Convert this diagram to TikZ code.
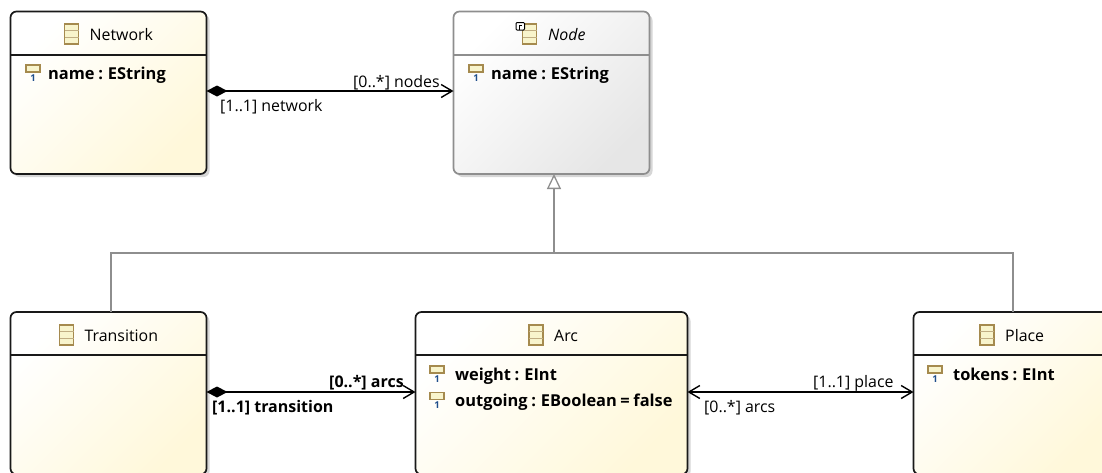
\documentclass[tikz,border=0pt]{standalone}
\usepackage{fontspec}
\setmainfont{Open Sans}
\usetikzlibrary{arrows.meta,shadows}
\definecolor{iconedge}{HTML}{A58A4E}
\definecolor{iconfill}{HTML}{F8F4CC}
\definecolor{inhgray}{HTML}{8E8E8E}
\definecolor{multblue}{HTML}{1F4E8C}
\definecolor{classend}{HTML}{FFF8DA}
\definecolor{absend}{HTML}{E6E6E6}
\newcommand{\dgmfont}{\fontsize{15.9}{18}\selectfont}
\newcommand{\attrfont}{\fontsize{16.4}{18}\selectfont\bfseries\spaceskip=3.6pt\relax}
\tikzset{
  x=1pt,y=-1pt,
  classbox/.style={anchor=north west,inner sep=0pt,outer sep=0pt,rounded corners=6pt,
    minimum height=162.5pt,line width=1.7pt,draw=black!90,
    left color=white,right color=classend,shading angle=45,
    drop shadow={shadow xshift=3pt,shadow yshift=-3pt,fill=black,opacity=.16}},
  absbox/.style={classbox,draw=inhgray,left color=white,right color=absend,shading angle=45},
  divider/.style={line width=1.6pt,draw=black!90},
  titletext/.style={anchor=base west,inner sep=0pt,font=\dgmfont},
  attrtext/.style={anchor=base west,inner sep=0pt,font=\attrfont},
  roletext/.style={anchor=base west,inner sep=0pt,font=\dgmfont},
  boldrole/.style={roletext,font=\fontsize{16}{18}\selectfont\bfseries},
  assoc/.style={line width=1.5pt,draw=black},
  comp/.style={assoc,{Diamond[length=21pt,width=11pt,fill=black]}-{Straight Barb[length=11pt,width=13pt,line width=1.4pt]}},
  both/.style={assoc,{Straight Barb[length=11pt,width=13pt,line width=1.4pt]}-{Straight Barb[length=11pt,width=13pt,line width=1.4pt]}},
  inh/.style={line width=1.5pt,draw=inhgray},
  classicon/.pic={
    \draw[iconedge,line width=1.4pt,fill=iconfill] (-7,-10) rectangle (7,10);
    \draw[iconedge!70,line width=1pt] (-7,-3.3) -- (7,-3.3) (-7,3.3) -- (7,3.3);
  },
  attricon/.pic={
    \draw[iconedge,line width=1.4pt,fill=iconfill] (-7,-4) rectangle (7,3);
    \node[inner sep=0pt,text=multblue,font=\fontsize{9.5}{9.5}\selectfont\bfseries] at (0,9) {1};
  },
}
\begin{document}
\begin{tikzpicture}
\path[use as bounding box,fill=white] (0,0) rectangle (1102,472);
\clip (0,0) rectangle (1102,472);
% boxes
\node[classbox,minimum width=196pt] (net) at (10.5,11.5) {};
\node[absbox,minimum width=196pt] (nod) at (453.5,11.5) {};
\node[classbox,minimum width=196pt] (tra) at (10.5,312) {};
\node[classbox,minimum width=272pt] (arc) at (415.5,312) {};
\node[classbox,minimum width=196pt] (pla) at (913.5,312) {};
% dividers
\draw[divider] (net.west |- 0,55) -- (net.east |- 0,55);
\draw[divider,draw=inhgray] (nod.west |- 0,55) -- (nod.east |- 0,55);
\draw[divider] (tra.west |- 0,355) -- (tra.east |- 0,355);
\draw[divider] (arc.west |- 0,355) -- (arc.east |- 0,355);
\draw[divider] (pla.west |- 0,355) -- (pla.east |- 0,355);
% class icons
\pic at (71.5,34) {classicon};
\pic at (529.5,34) {classicon};
\pic at (66.5,335) {classicon};
\pic at (536,335) {classicon};
\pic at (987,335) {classicon};
% abstract marker
\draw[black,line width=1pt,fill=white,rounded corners=1pt] (516,22.5) rectangle (524.5,30);
\draw[black,line width=.8pt] (519,30) -- (519,25) -- (522,25);
% titles
\node[titletext] (tnet) at (89.5,40) {Network};
\node[titletext,font=\dgmfont\itshape] (tnod) at (548,40) {Node};
\node[titletext] (ttra) at (84.5,341) {Transition};
\node[titletext] (tarc) at (554,341) {Arc};
\node[titletext] (tpla) at (1005,341) {Place};
% attributes
\pic at (33,69) {attricon};
\node[attrtext] (a1) at (48,79) {name : EString};
\pic at (476,69) {attricon};
\node[attrtext] (a2) at (491,79) {name : EString};
\pic at (437,370) {attricon};
\node[attrtext] (a3) at (455,380) {weight : EInt};
\pic at (437,396.5) {attricon};
\node[attrtext] (a4) at (455,406.5) {outgoing : EBoolean = false};
\pic at (935,370) {attricon};
\node[attrtext] (a5) at (953,380) {tokens : EInt};
% associations
\draw[comp] (net.east |- 0,91) -- (nod.west |- 0,91);
\draw[comp] (tra.east |- 0,392) -- (arc.west |- 0,392);
\draw[both] (arc.east |- 0,392) -- (pla.west |- 0,392);
% inheritance
\coordinate (joint) at (554,253);
\draw[inh,-{Triangle[open,length=15pt,width=14pt,fill=white,line width=1.3pt]}] (joint) -- (nod.south -| joint);
\draw[inh] (tra.north -| 111,0) -- (111,253) -- (joint) -- (1013,253) -- (pla.north -| 1013,0);
% role labels
\node[roletext] (r1) at (353,87) {[0..*] nodes};
\node[roletext] (r2) at (220,111.5) {[1..1] network};
\node[boldrole] (r3) at (329,387) {[0..*] arcs};
\node[boldrole] (r4) at (212,412.5) {[1..1] transition};
\node[roletext] (r5) at (813,387) {[1..1] place};
\node[roletext] (r6) at (704,412.5) {[0..*] arcs};
\end{tikzpicture}
\end{document}
